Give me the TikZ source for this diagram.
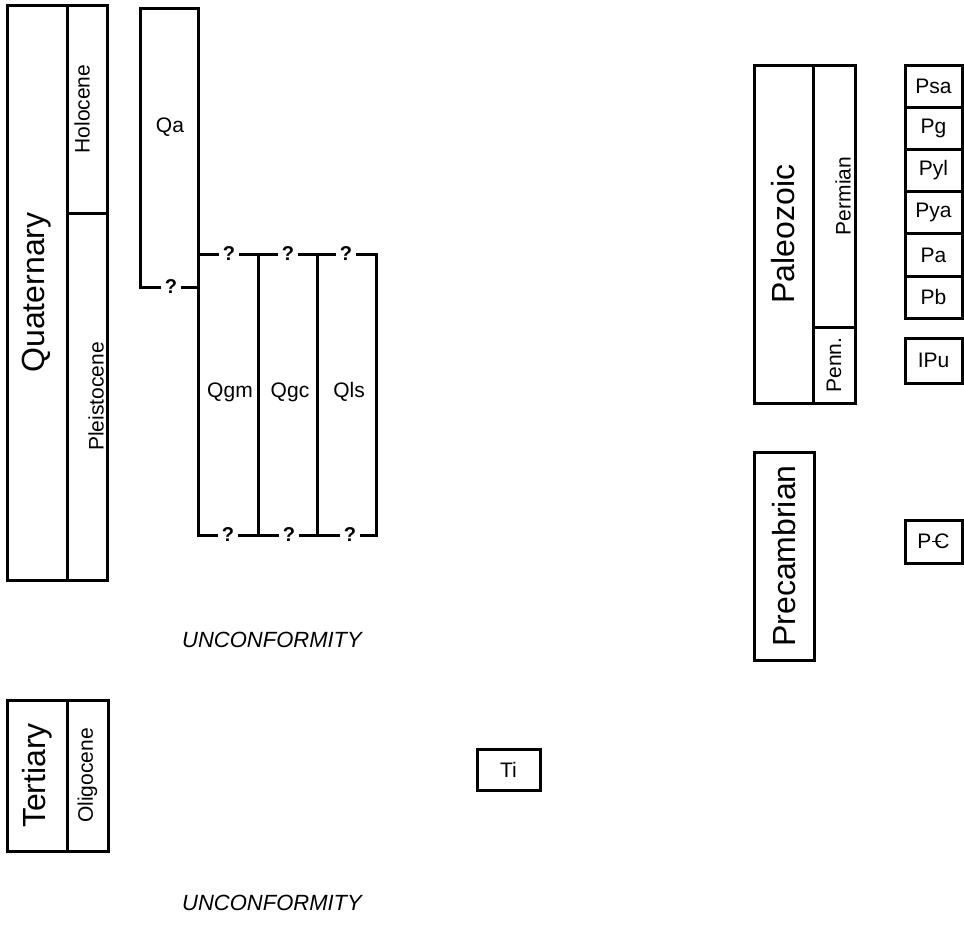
\documentclass[tikz,border=0pt]{standalone}
\usepackage{fontspec}
\setmainfont{Liberation Sans}
\usetikzlibrary{positioning}

\newcommand{\cambrsym}{{\rlap{\kern-0.12em\rule[0.31em]{0.42em}{0.075em}}C}}

\tikzset{
	box/.style={draw, line width=3pt, inner sep=0pt, outer sep=0pt, anchor=north west},
	big/.style={rotate=90, font=\fontsize{32}{36}\selectfont},
	small/.style={font=\fontsize{21}{24}\selectfont},
	vsmall/.style={small, rotate=90},
	qmark/.style={font=\bfseries\fontsize{20}{24}\selectfont, inner sep=4pt},
	brk/.style={line width=3pt},
	note/.style={font=\itshape\fontsize{22}{26}\selectfont},
}

\begin{document}
\begin{tikzpicture}[x=1pt, y=-1pt]
	\useasboundingbox (0,0) rectangle (964,946);
	
	% Quaternary column
	\node[box, minimum width=60pt, minimum height=575pt] (quat) at (7,5) {};
	\node[box, minimum width=40pt, minimum height=208pt] (holo) at (quat.north east) {};
	\node[box, minimum width=40pt, minimum height=367pt] (pleis) at (holo.south west) {};
	\node[big] (quat-t) at (quat.center) {Quaternary};
	\node[vsmall, yshift=5pt] (holo-t) at (holo.center) {Holocene};
	\node[vsmall, yshift=-9pt] (pleis-t) at (pleis.center) {Pleistocene};
	
	% map units, Quaternary
	\node[small] (qa) at (170,127) {Qa};
	\node[small] (qgm) at (230,392) {Qgm};
	\node[small] (qgc) at (290,392) {Qgc};
	\node[small] (qls) at (349,392) {Qls};
	\node[qmark] (qa-q) at (171,287) {?};
	\node[qmark] (t1) at (229,254) {?};
	\node[qmark] (t2) at (288,254) {?};
	\node[qmark] (t3) at (346,254) {?};
	\node[qmark] (b1) at (228,535) {?};
	\node[qmark] (b2) at (289,535) {?};
	\node[qmark] (b3) at (350,535) {?};
	\coordinate (j1) at (258,254);
	\coordinate (j2) at (317,254);
	\draw[brk] (qa-q.west) -| (140,8) -| (198,535) -- (b1.west);
	\draw[brk] (qa-q.east) -- (198,287);
	\draw[brk] (198,254) -- (t1.west);
	\draw[brk] (t1.east) -- (t2.west);
	\draw[brk] (t2.east) -- (t3.west);
	\draw[brk] (t3.east) -| (376,535) -- (b3.east);
	\draw[brk] (b1.east) -- (b2.west);
	\draw[brk] (b2.east) -- (b3.west);
	\draw[brk] (j1) -- (j1 |- b1);
	\draw[brk] (j2) -- (j2 |- b1);
	
	\node[note] (unc1) at (272,640) {UNCONFORMITY};
	
	% Tertiary column
	\node[box, minimum width=60pt, minimum height=151pt] (tert) at (7,700) {};
	\node[box, minimum width=41pt, minimum height=151pt] (olig) at (tert.north east) {};
	\node[big] (tert-t) at (tert.center) {Tertiary};
	\node[vsmall] (olig-t) at (olig.center) {Oligocene};
	\node[box, small, minimum width=63pt, minimum height=41pt] (ti) at (477,749) {Ti};
	
	\node[note] (unc2) at (272,903) {UNCONFORMITY};
	
	% Paleozoic column
	\node[box, minimum width=59pt, minimum height=338pt] (paleo) at (754,65) {};
	\node[box, minimum width=42pt, minimum height=262pt] (perm) at (paleo.north east) {};
	\node[box, minimum width=42pt, minimum height=76pt] (penn) at (perm.south west) {};
	\node[big] (paleo-t) at (paleo.center) {Paleozoic};
	\node[vsmall, yshift=-9pt] (perm-t) at (perm.center) {Permian};
	\node[vsmall] (penn-t) at (penn.center) {Penn.};
	\foreach \n [count=\i from 0] in {Psa,Pg,Pyl,Pya,Pa,Pb}
		\node[box, small, minimum width=57pt, minimum height=42.2pt] (\n) at (905,{65+42.2*\i}) {\n};
	\node[box, small, minimum width=57pt, minimum height=45pt] (ipu) at (905,338) {IPu};
	
	% Precambrian
	\node[box, minimum width=60pt, minimum height=208pt] (precamb) at (754,452) {};
	\node[big] (precamb-t) at (precamb.center) {Precambrian};
	\node[box, small, minimum width=57pt, minimum height=43pt] (pc) at (905,520) {P\kern3pt\cambrsym};
\end{tikzpicture}
\end{document}
